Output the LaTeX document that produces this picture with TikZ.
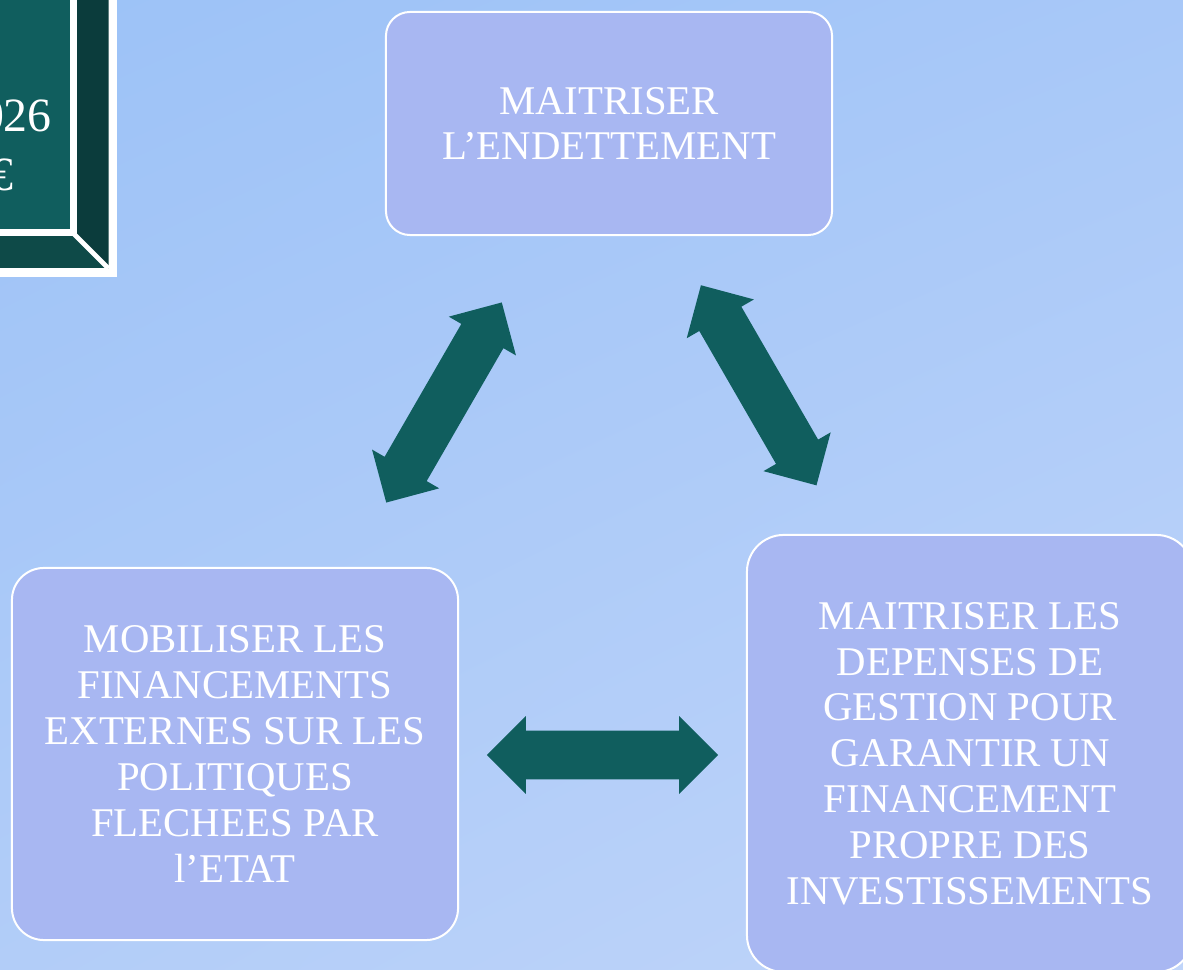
\documentclass[tikz,border=0pt]{standalone}
\usepackage{fontspec}
\setmainfont{Liberation Serif}
\usetikzlibrary{shapes.arrows,shadings}

\definecolor{bgtl}{RGB}{156,194,247}
\definecolor{bgtr}{RGB}{168,200,248}
\definecolor{bgbl}{RGB}{178,205,248}
\definecolor{bgbr}{RGB}{192,213,250}
\definecolor{boxfill}{RGB}{168,183,242}
\definecolor{arrteal}{RGB}{16,94,94}
\definecolor{bevright}{RGB}{11,60,60}
\definecolor{bevbot}{RGB}{14,74,72}

\begin{document}
\begin{tikzpicture}[x=0.025cm,y=-0.025cm,
  goalbox/.style={draw=white,line width=0.05cm,fill=boxfill,text=white,align=center,
    font=\fontsize{29}{32.6}\selectfont,inner sep=0pt,minimum width=11.15cm},
  dblarr/.style={double arrow,fill=arrteal,draw=none,minimum height=5.775cm,
    inner xsep=0pt,inner ysep=0.6cm,double arrow head extend=0.3625cm}]
\useasboundingbox (0,0) rectangle (1183,970);
\clip (0,0) rectangle (1183,970);
\shade[upper left=bgtl,upper right=bgtr,lower left=bgbl,lower right=bgbr]
  (0,0) rectangle (1183,970);
% bevelled title box, cut by the page edge
\draw[white,line width=0.21cm,fill=bevbot] (-60,-60) rectangle (112.5,272.5);
\fill[bevright] (73,-60) -- (108.5,-60) -- (108.5,268.5) -- (73,233) -- cycle;
\draw[white,line width=0.12cm] (73,233) -- (108.5,268.5);
\draw[white,line width=0.175cm,fill=arrteal] (-60,-60) rectangle (73,233);
\node[anchor=base east,text=white,font=\fontsize{34}{40}\selectfont,inner sep=0pt]
  (yr) at (52,132) {026};
\node[anchor=base east,text=white,font=\fontsize{34}{40}\selectfont,inner sep=0pt]
  (eur) at (14,191) {€};
% the three goals
\node[goalbox,minimum height=5.575cm,rounded corners=0.6cm] (endet) at (609,123.5)
  {MAITRISER\\L’ENDETTEMENT};
\node[goalbox,minimum height=9.3cm,rounded corners=0.8cm] (financ) at (235,754)
  {MOBILISER LES\\FINANCEMENTS\\EXTERNES SUR LES\\POLITIQUES\\FLECHEES PAR\\l’ETAT};
\node[goalbox,minimum height=10.925cm,rounded corners=0.92cm] (depens) at (970,753.5)
  {MAITRISER LES\\DEPENSES DE\\GESTION POUR\\GARANTIR UN\\FINANCEMENT\\PROPRE DES\\INVESTISSEMENTS};
% links between them
\node[dblarr,rotate=60] (arTL) at (444,402.5) {};
\node[dblarr,rotate=-60] (arTR) at (758.7,385.3) {};
\node[dblarr] (arB) at (602.5,755) {};
\end{tikzpicture}
\end{document}
